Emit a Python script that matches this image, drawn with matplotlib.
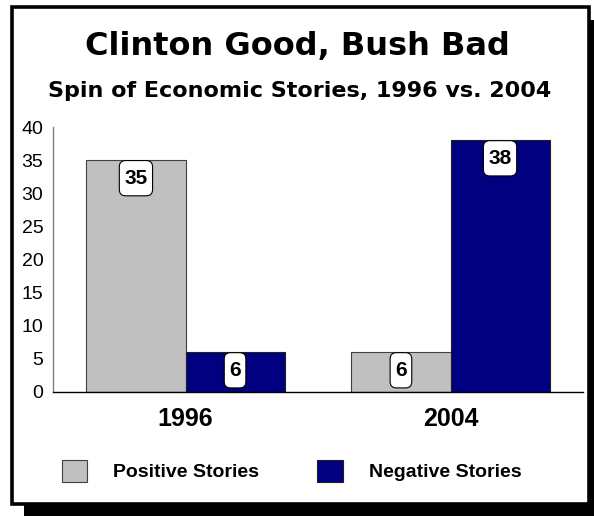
import matplotlib.pyplot as plt
import matplotlib.patches as mpatches
from matplotlib.patches import BoxStyle
import numpy as np

plt.rcParams['font.family'] = ['Liberation Sans', 'DejaVu Sans']

years = ['1996', '2004']
positive = [35, 6]
negative = [6, 38]
series_names = ['Positive Stories', 'Negative Stories']
gray = '#c0c0c0'
navy = '#000080'

W, H = 594, 516
fig = plt.figure(figsize=(W / 100, H / 100), dpi=100)


def fx(px):
    return px / W


def fy(py):
    return 1 - py / H


def label_box(x0, y0, width, height, mutation_size):
    # rounded box, taller than it is padded sideways
    px = 0.24 * mutation_size
    py = 0.39 * mutation_size
    return BoxStyle.Round(pad=0, rounding_size=0.3)(
        x0 - px, y0 - py, width + 2 * px, height + 2 * py, mutation_size)


# drop shadow and white frame
shadow = mpatches.Rectangle((fx(24), fy(530)), fx(600) - fx(24), fy(20) - fy(530),
                            transform=fig.transFigure, facecolor='black', edgecolor='none', zorder=0)
frame = mpatches.Rectangle((fx(11.5), fy(503.5)), fx(588.5) - fx(11.5), fy(6.5) - fy(503.5),
                           transform=fig.transFigure, facecolor='white', edgecolor='black',
                           linewidth=2.6, zorder=1)
fig.patches.extend([shadow, frame])

fig.text(fx(297), fy(55), 'Clinton Good, Bush Bad', ha='center', va='baseline',
         fontsize=23, fontweight='bold', family='DejaVu Sans')
fig.text(fx(300), fy(97), 'Spin of Economic Stories, 1996 vs. 2004', ha='center', va='baseline',
         fontsize=16, fontweight='bold', family='DejaVu Sans')

ax = fig.add_axes([fx(53), fy(392), fx(583) - fx(53), fy(127) - fy(392)])
ax.set_facecolor('none')
ax.set_zorder(2)

x = np.arange(len(years))
w = 0.374
b1 = ax.bar(x - w / 2, positive, w, color=gray, edgecolor='#404040', linewidth=0.8,
            label=series_names[0])
b2 = ax.bar(x + w / 2, negative, w, color=navy, edgecolor='#202020', linewidth=0.8,
            label=series_names[1])

for bars in (b1, b2):
    for r in bars:
        v = r.get_height()
        ax.annotate(str(v), (r.get_x() + r.get_width() / 2, v), xytext=(0, -13),
                    textcoords='offset points', ha='center', va='center',
                    fontsize=15, fontweight='bold',
                    bbox=dict(boxstyle=label_box, facecolor='white', edgecolor='black',
                              linewidth=0.8))

ax.set_xlim(-0.5, 1.5)
ax.set_ylim(0, 40)
ax.set_yticks(range(0, 41, 5))
ax.set_xticks(x)
ax.set_xticklabels(years, fontsize=18, fontweight='bold')
ax.tick_params(axis='y', length=0, pad=7, labelsize=14)
ax.tick_params(axis='x', length=0, pad=11)
ax.spines['top'].set_visible(False)
ax.spines['right'].set_visible(False)
ax.spines['left'].set_color('#808080')
ax.spines['left'].set_linewidth(1.0)
ax.spines['bottom'].set_color('black')
ax.spines['bottom'].set_linewidth(1.0)

leg = ax.legend(loc='center left', bbox_to_anchor=(fx(62), fy(471)),
                bbox_transform=fig.transFigure, ncol=2, frameon=False,
                prop={'size': 14, 'weight': 'bold'}, handlelength=1.29, handleheight=1.4,
                handletextpad=1.34, columnspacing=3.0, borderpad=0, borderaxespad=0)

fig.savefig('out.png', dpi=100)
